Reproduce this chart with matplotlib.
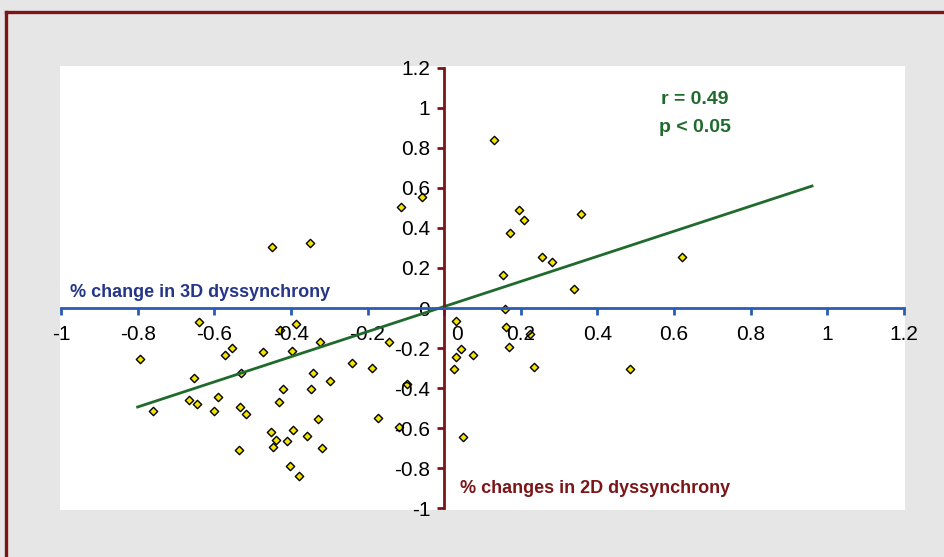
#! /usr/bin/env python3
# -*- coding: utf-8 -*-
import numpy as np
import matplotlib
matplotlib.use("Agg")
import matplotlib.pyplot as plt
import matplotlib.transforms as mtransforms
from matplotlib.lines import Line2D
from matplotlib.patches import Rectangle

# % changes in 2D dyssynchrony (x) vs % change in 3D dyssynchrony (y)
zmiana_2d = [-0.794, -0.759, -0.639, -0.652, -0.666, -0.646, -0.572, -0.553,
             -0.590, -0.601, -0.531, -0.534, -0.518, -0.536, -0.472, -0.428,
             -0.388, -0.396, -0.421, -0.430, -0.452, -0.440, -0.446, -0.409,
             -0.395, -0.403, -0.379, -0.358, -0.319, -0.328, -0.348, -0.343,
             -0.324, -0.298, -0.240, -0.188, -0.172, -0.143, -0.097, -0.119,
             -0.449, -0.351, -0.113, -0.058,
             0.131, 0.194, 0.208, 0.173, 0.358, 0.255, 0.281, 0.154, 0.621,
             0.338, 0.160, 0.162, 0.170, 0.225, 0.235, 0.484, 0.030, 0.044,
             0.031, 0.074, 0.026, 0.049]
zmiana_3d = [-0.255, -0.513, -0.068, -0.348, -0.460, -0.480, -0.233, -0.198,
             -0.447, -0.513, -0.323, -0.493, -0.532, -0.708, -0.220, -0.110,
             -0.082, -0.217, -0.405, -0.472, -0.618, -0.658, -0.693, -0.665,
             -0.610, -0.792, -0.842, -0.642, -0.702, -0.553, -0.405, -0.327,
             -0.172, -0.367, -0.273, -0.298, -0.552, -0.172, -0.382, -0.593,
             0.303, 0.327, 0.507, 0.557,
             0.838, 0.490, 0.438, 0.375, 0.470, 0.253, 0.228, 0.167, 0.253,
             0.096, -0.003, -0.093, -0.195, -0.130, -0.293, -0.305, -0.063,
             -0.207, -0.243, -0.233, -0.307, -0.643]

# linia regresji
regresja_x = [-0.80, 0.96]
regresja_y = [-0.495, 0.61]

xticki = [-1, -0.8, -0.6, -0.4, -0.2, 0, 0.2, 0.4, 0.6, 0.8, 1, 1.2]
yticki = [-1, -0.8, -0.6, -0.4, -0.2, 0, 0.2, 0.4, 0.6, 0.8, 1, 1.2]

CZERWONY = "#7c1517"
NIEBIESKI = "#2b5cb4"
GRANAT = "#25368a"
ZIELONY = "#1f6a2c"

plt.rcParams['font.family'] = ['Liberation Sans', 'DejaVu Sans']


def etykieta(v):
    return "%g" % v


def rysujWykres():
    fig = plt.figure(figsize=(9.44, 5.57), dpi=100)
    fig.patch.set_facecolor("#e6e6e6")

    # biale pole wykresu i ramka figury
    fig.patches.append(Rectangle((60 / 944, 1 - 510 / 557), 845 / 944, 444 / 557,
                                 transform=fig.transFigure, facecolor="white",
                                 edgecolor="none", zorder=-5))
    fig.lines.append(Line2D([6 / 944, 1], [1 - 12 / 557, 1 - 12 / 557],
                            transform=fig.transFigure, color=CZERWONY, lw=2.4,
                            zorder=-4))
    fig.lines.append(Line2D([6 / 944, 6 / 944], [0, 1 - 12 / 557],
                            transform=fig.transFigure, color=CZERWONY, lw=2.4,
                            zorder=-4))

    ax = fig.add_axes([61 / 944, 1 - 508 / 557, 843 / 944, 440 / 557])
    ax.set_facecolor("none")
    ax.set_xlim(-1, 1.2)
    ax.set_ylim(-1, 1.2)

    ax.spines['top'].set_visible(False)
    ax.spines['right'].set_visible(False)
    ax.spines['left'].set_position(('data', 0))
    ax.spines['bottom'].set_position(('data', 0))
    ax.spines['left'].set_color(CZERWONY)
    ax.spines['bottom'].set_color(NIEBIESKI)
    ax.spines['left'].set_linewidth(2.0)
    ax.spines['bottom'].set_linewidth(2.0)

    ax.set_xticks(xticki)
    ax.set_xticklabels([etykieta(v) for v in xticki])
    ax.set_yticks(yticki)
    ax.set_yticklabels([etykieta(v) for v in yticki])
    ax.tick_params(axis='x', direction='out', length=5, width=2,
                   color=NIEBIESKI, labelsize=15, pad=7)
    ax.tick_params(axis='y', direction='out', length=5, width=2,
                   color=CZERWONY, labelsize=15, pad=5)

    # etykieta "0" na osi x przesunieta w prawo, jak w oryginale
    przesun = mtransforms.ScaledTranslation(13 / 100, 0, fig.dpi_scale_trans)
    for lab in ax.get_xticklabels():
        if lab.get_text() == "0":
            lab.set_transform(lab.get_transform() + przesun)

    ax.scatter(zmiana_2d, zmiana_3d, marker="D", s=18, facecolor="#f4e400",
               edgecolor="black", linewidth=1.0, zorder=1)
    ax.plot(regresja_x, regresja_y, color=ZIELONY, linewidth=2, zorder=2)

    ax.text(-0.977, 0.055, "% change in 3D dyssynchrony", color=GRANAT,
            fontsize=13, fontweight="bold", ha="left", va="baseline")
    ax.text(0.042, -0.925, "% changes in 2D dyssynchrony", color=CZERWONY,
            fontsize=13, fontweight="bold", ha="left", va="baseline")
    ax.text(0.565, 1.02, "r = 0.49", color=ZIELONY, fontsize=14,
            fontweight="bold", ha="left", va="baseline")
    ax.text(0.560, 0.88, "p < 0.05", color=ZIELONY, fontsize=14,
            fontweight="bold", ha="left", va="baseline")

    fig.savefig("out.png", dpi=100, facecolor=fig.get_facecolor())


def main():
    rysujWykres()
    return 0


main()
